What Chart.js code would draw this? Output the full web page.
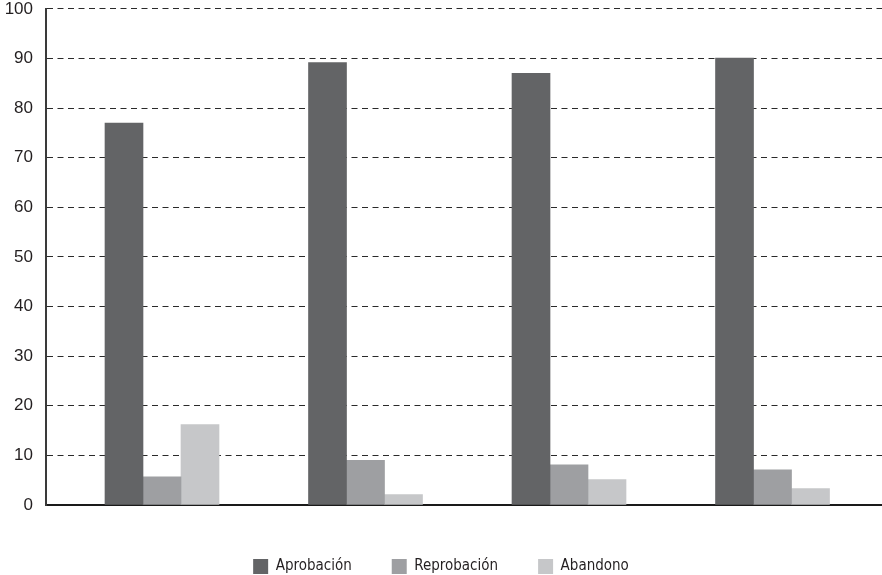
<!DOCTYPE html>
<html lang="es">
<head>
  <meta charset="UTF-8" />
  <title>Aprobación, reprobación y abandono</title>
  <script src="https://cdn.jsdelivr.net/npm/chart.js"></script>
  <style>
    html, body { margin: 0; padding: 0; background: #fff; overflow: hidden; }
    #wrap { width: 882px; height: 575px; }
    canvas { display: block; }
  </style>
</head>
<body>
  <div id="wrap"><canvas id="chart"></canvas></div>

  <script>
    // four groups, no visible category labels in the source
    const groups = [1, 2, 3, 4];
    const seriesNames = ["Aprobación", "Reprobación", "Abandono"];
    const aprobacion = [77.0, 89.2, 87.0, 90.1];
    const reprobacion = [5.7, 9.0, 8.1, 7.1];
    const abandono = [16.2, 2.1, 5.1, 3.3];
    const yTicks = [0, 10, 20, 30, 40, 50, 60, 70, 80, 90, 100];
    const colors = ["#636466", "#9e9fa2", "#c6c7c9"];

    const narrow = "'DejaVu Sans Condensed', 'Liberation Sans Narrow', sans-serif";

    function toPoints(values) {
      return values.map((v, i) => ({ x: groups[i], y: v }));
    }

    const ctx = document.getElementById("chart").getContext("2d");
    new Chart(ctx, {
      type: 'bar',
      data: {
        datasets: [aprobacion, reprobacion, abandono].map((vals, i) => ({
          label: seriesNames[i],
          data: toPoints(vals),
          backgroundColor: colors[i],
          borderWidth: 0,
          barThickness: 38
        }))
      },
      options: {
        responsive: true,
        maintainAspectRatio: false,
        animation: false,
        layout: { padding: { top: 0, right: 0, left: 0, bottom: -9 } },
        plugins: {
          tooltip: { enabled: false },
          legend: {
            position: 'bottom',
            labels: {
              boxWidth: 15,
              boxHeight: 15,
              padding: 40,
              color: '#231f20',
              font: { family: narrow, size: 15 }
            }
          }
        },
        scales: {
          x: {
            // linear axis so the groups sit where they do in the source
            type: 'linear',
            offset: false,
            min: 0.43,
            max: 4.538,
            grid: { display: false },
            border: { display: true, color: '#1a1a1a', width: 2 },
            ticks: { display: false, stepSize: 1, includeBounds: false },
            afterFit: s => { s.height = 14; }
          },
          y: {
            min: 0,
            max: 100,
            afterBuildTicks: s => { s.ticks = yTicks.map(v => ({ value: v })); },
            grid: { color: '#2a2a2a', lineWidth: 1, drawTicks: true, tickLength: 13, tickColor: 'rgba(0,0,0,0)' },
            border: { display: true, color: '#3a3a3a', width: 2, dash: [6, 4.5] },
            ticks: {
              padding: 0,
              color: '#231f20',
              font: { family: "'Liberation Sans', Arial, sans-serif", size: 17, lineHeight: 1.05 }
            },
            afterFit: s => { s.width = 46; }
          }
        }
      }
    });
  </script>
</body>
</html>
